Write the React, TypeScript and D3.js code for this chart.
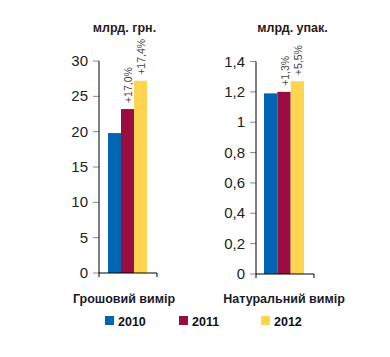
import React from "react";
import * as d3 from "d3";

const years = ["2010", "2011", "2012"];
const colors = ["#0066B3", "#990D40", "#FFD54F"];

const moneyValues = [19.8, 23.2, 27.2];
const moneyChanges = ["", "+17,0%", "+17,4%"];
const moneyTicks = [0, 5, 10, 15, 20, 25, 30];

const unitValues = [1.19, 1.2, 1.27];
const unitChanges = ["", "+1,3%", "+5,5%"];
const unitTicks = [0, 0.2, 0.4, 0.6, 0.8, 1, 1.2, 1.4];

const panels = [
  {
    title: "млрд. грн.",
    category: "Грошовий вимір",
    values: moneyValues,
    changes: moneyChanges,
    ticks: moneyTicks,
    max: 30,
    axisX: 99,
    barStart: 108,
    barEnd: 147,
    axisEnd: 157,
    yTop: 61,
    yBottom: 273,
    titleX: 124.5,
    catX: 124,
  },
  {
    title: "млрд. упак.",
    category: "Натуральний вимір",
    values: unitValues,
    changes: unitChanges,
    ticks: unitTicks,
    max: 1.4,
    axisX: 256,
    barStart: 264,
    barEnd: 304,
    axisEnd: 314,
    yTop: 61.5,
    yBottom: 274,
    titleX: 292.5,
    catX: 284,
  },
];

const fmt = (v: number) => String(v).replace(".", ",");

function Panel({ p }: { p: (typeof panels)[number] }) {
  const y = d3.scaleLinear().domain([0, p.max]).range([p.yBottom, p.yTop]);
  const x = d3.scaleBand<string>().domain(years).range([p.barStart, p.barEnd]).padding(0);
  const font = "'Liberation Sans', Arial, sans-serif";
  return (
    <g>
      <text x={p.titleX} y={32} textAnchor="middle" fontFamily={font} fontWeight="bold" fontSize={12.5} fill="#2a1a1a">
        {p.title}
      </text>
      {p.values.map((v, i) => (
        <rect key={i} x={x(years[i])} y={y(v)} width={x.bandwidth()} height={y(0) - y(v)} fill={colors[i]} />
      ))}
      {p.values.map((v, i) =>
        p.changes[i] ? (
          <text
            key={"c" + i}
            transform={`translate(${(x(years[i]) as number) + x.bandwidth() / 2 + 4.5},${y(v) - 6}) rotate(-90)`}
            fontFamily={font}
            fontSize={10.5}
            fill="#444"
          >
            {p.changes[i]}
          </text>
        ) : null
      )}
      {p.ticks.map((t) => (
        <g key={t}>
          <line x1={p.axisX - 6} x2={p.axisX} y1={y(t)} y2={y(t)} stroke="#888" strokeWidth={1} />
          <text x={p.axisX - 11} y={y(t) + 5} textAnchor="end" fontFamily={font} fontSize={15} fill="#222">
            {fmt(t)}
          </text>
        </g>
      ))}
      <line x1={p.axisX} x2={p.axisX} y1={p.yTop} y2={p.yBottom} stroke="#000" strokeWidth={1} />
      <line x1={p.axisX} x2={p.axisEnd} y1={p.yBottom} y2={p.yBottom} stroke="#000" strokeWidth={1} />
      <line x1={p.axisX} x2={p.axisX} y1={p.yBottom} y2={p.yBottom + 4} stroke="#000" strokeWidth={1} />
      <line x1={p.axisEnd} x2={p.axisEnd} y1={p.yBottom} y2={p.yBottom + 4} stroke="#000" strokeWidth={1} />
      <text x={p.catX} y={303} textAnchor="middle" fontFamily={font} fontWeight="bold" fontSize={12.5} fill="#1a1a2a">
        {p.category}
      </text>
    </g>
  );
}

const legendX = [105, 179, 261];

export default function App() {
  const font = "'Liberation Sans', Arial, sans-serif";
  return (
    <svg width={390} height={357} style={{ position: "absolute", left: 0, top: 0, background: "#fff" }}>
      {panels.map((p, i) => (
        <Panel key={i} p={p} />
      ))}
      {years.map((yr, i) => (
        <g key={yr}>
          <rect x={legendX[i]} y={316} width={9} height={9} fill={colors[i]} />
          <text x={legendX[i] + 13} y={325.5} fontFamily={font} fontWeight="bold" fontSize={12.5} fill="#111">
            {yr}
          </text>
        </g>
      ))}
    </svg>
  );
}
